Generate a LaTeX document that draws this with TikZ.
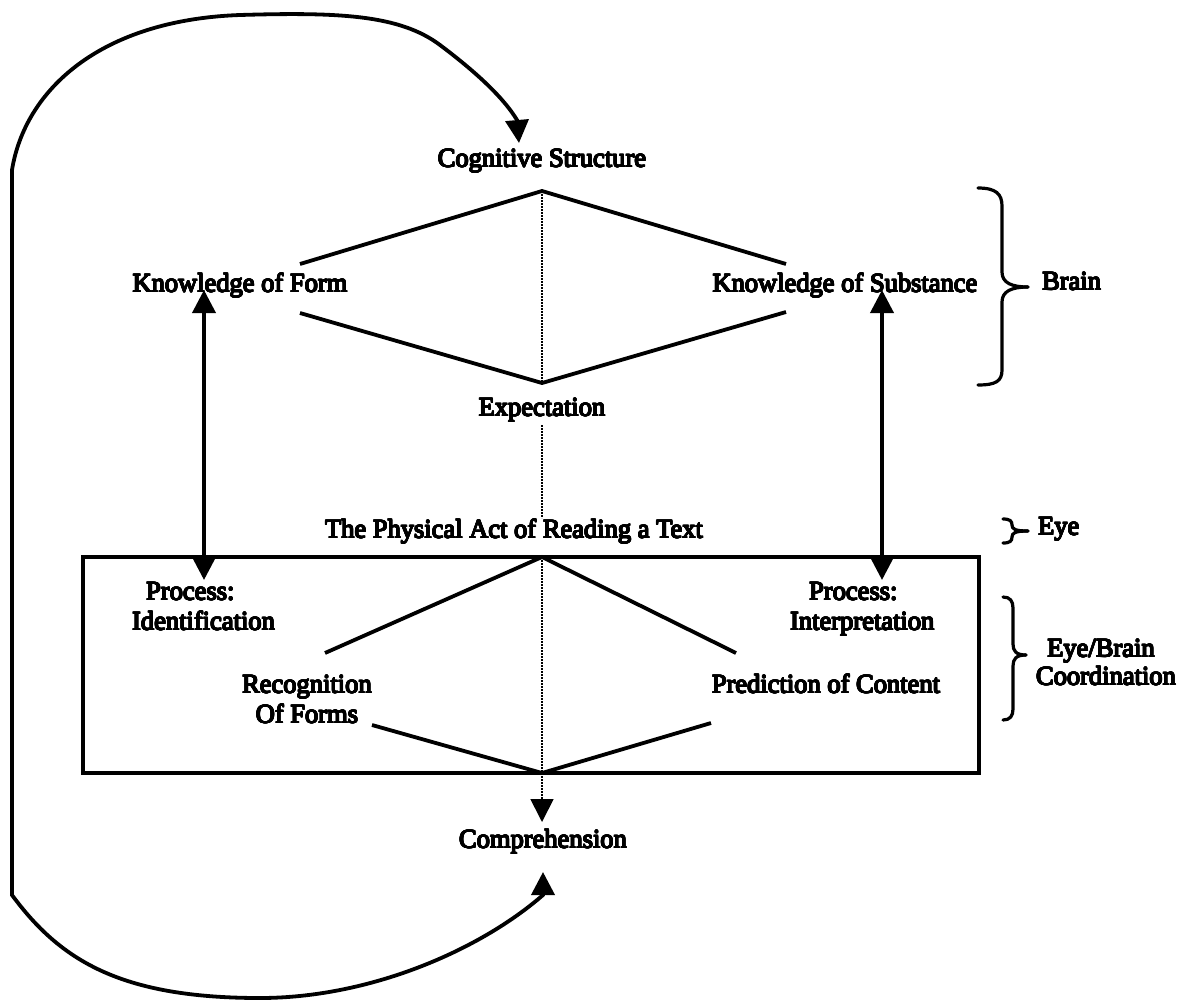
\documentclass[tikz,border=0pt]{standalone}
\usepackage{fontspec}
\setmainfont{Liberation Serif}
\usepackage{contour}
\contourlength{0.55pt}
\contournumber{16}
\newcommand{\heavytext}[1]{\contour{black}{#1}}
\usetikzlibrary{arrows.meta}
\begin{document}
\begin{tikzpicture}[x=1pt,y=-1pt,
  lbl/.style={font=\fontsize{26.5}{30}\selectfont, inner sep=0pt, anchor=base},
  lblw/.style={lbl, anchor=base west},
  ln/.style={line width=3.8pt},
  bracestyle/.style={line width=3.2pt, line cap=round},
  dotline/.style={line width=1.7pt, dash pattern=on 1.6pt off 1.4pt},
  tiphead/.style={-{Triangle[length=23pt,width=23pt]}},
  dblhead/.style={{Triangle[length=23pt,width=23pt]}-{Triangle[length=23pt,width=23pt]}}]
\useasboundingbox (0,0) rectangle (1183,999);

% texts
\node[lbl] (cog) at (542,167) {\heavytext{Cognitive Structure}};
\node[lbl] (kform) at (240,292) {\heavytext{Knowledge of Form}};
\node[lbl] (ksub) at (845,292) {\heavytext{Knowledge of Substance}};
\node[lbl] (expect) at (542,416) {\heavytext{Expectation}};
\node[lbl] (phys) at (514,538) {\heavytext{The Physical Act of Reading a Text}};
\node[lblw] (procLa) at (146,600) {\heavytext{Process:}};
\node[lblw] (procLb) at (132,630) {\heavytext{Identification}};
\node[lblw] (procRa) at (809,600) {\heavytext{Process:}};
\node[lblw] (procRb) at (790,630) {\heavytext{Interpretation}};
\node[lbl] (recA) at (307,693) {\heavytext{Recognition}};
\node[lbl] (recB) at (307,723) {\heavytext{Of Forms}};
\node[lbl] (pred) at (826,693) {\heavytext{Prediction of Content}};
\node[lbl] (compr) at (543,848) {\heavytext{Comprehension}};
\node[lblw] (brain) at (1042,290) {\heavytext{Brain}};
\node[lblw] (eye) at (1038,535) {\heavytext{Eye}};
\node[lbl] (ebA) at (1101,657) {\heavytext{Eye/Brain}};
\node[lbl] (ebB) at (1106,685) {\heavytext{Coordination}};

% coordinates
\coordinate (cTop) at (542,191);
\coordinate (kfU) at (300,264);
\coordinate (kfD) at (300,313);
\coordinate (eBot) at (542,383);
\coordinate (ksU) at (786,264);
\coordinate (ksD) at (786,312);
\coordinate (eDotA) at (542,425);
\coordinate (eDotB) at (542,518);
\coordinate (pTop) at (542,557);
\coordinate (pBot) at (542,773);
\coordinate (recU) at (325,653);
\coordinate (predU) at (736,653);
\coordinate (recD) at (372,725);
\coordinate (predD) at (711,723);
\coordinate (comprTop) at (542,822);
\coordinate (aLtop) at (204,290);
\coordinate (aLbot) at (204,580);
\coordinate (aRtop) at (882,290);
\coordinate (aRbot) at (882,580);
\coordinate (loopStart) at (543,872);
\coordinate (loopEnd) at (519,143);

% upper diamond
\draw[ln] (kfU) -- (cTop) -- (ksU);
\draw[ln] (kfD) -- (eBot) -- (ksD);
\draw[dotline] (cTop) -- (eBot);
\draw[dotline] (eDotA) -- (eDotB);

% box
\draw[line width=4.2pt] (83,557) rectangle (979,773);
\draw[ln] (recU) -- (pTop) -- (predU);
\draw[ln] (recD) -- (pBot) -- (predD);
\draw[dotline, tiphead] (pTop) -- (comprTop);

% double arrows
\draw[ln, dblhead] (aLtop) -- (aLbot);
\draw[ln, dblhead] (aRtop) -- (aRbot);

% loop
\draw[ln, dblhead] (loopStart) -- (543,895)
  .. controls (480,950) and (370,998) .. (260,998)
  .. controls (120,998) and (60,960) .. (12,895)
  -- (12,170)
  .. controls (25,90) and (100,20) .. (240,15)
  .. controls (340,12) and (400,15) .. (440,45)
  .. controls (480,75) and (505,100) .. (517,120)
  -- (loopEnd);

% braces
\draw[bracestyle] (978,188) .. controls (996,188) and (1002,194) .. (1002,206) -- (1002,272)
  .. controls (1002,283) and (1012,287) .. (1028,287);
\draw[bracestyle] (1028,287) .. controls (1012,287) and (1002,291) .. (1002,302) -- (1002,370)
  .. controls (1002,381) and (996,385) .. (978,385);

\draw[bracestyle] (1003,519) .. controls (1010,519) and (1012,521) .. (1012,525)
  .. controls (1012,529) and (1015,531) .. (1028,531);
\draw[bracestyle] (1028,531) .. controls (1015,531) and (1012,533) .. (1012,537)
  .. controls (1012,541) and (1010,543) .. (1003,543);

\draw[bracestyle] (1003,597) .. controls (1010,597) and (1013,601) .. (1013,608) -- (1013,644)
  .. controls (1013,651) and (1016,655) .. (1026,655);
\draw[bracestyle] (1026,655) .. controls (1016,655) and (1013,659) .. (1013,666) -- (1013,709)
  .. controls (1013,716) and (1010,720) .. (1003,720);
\end{tikzpicture}
\end{document}
